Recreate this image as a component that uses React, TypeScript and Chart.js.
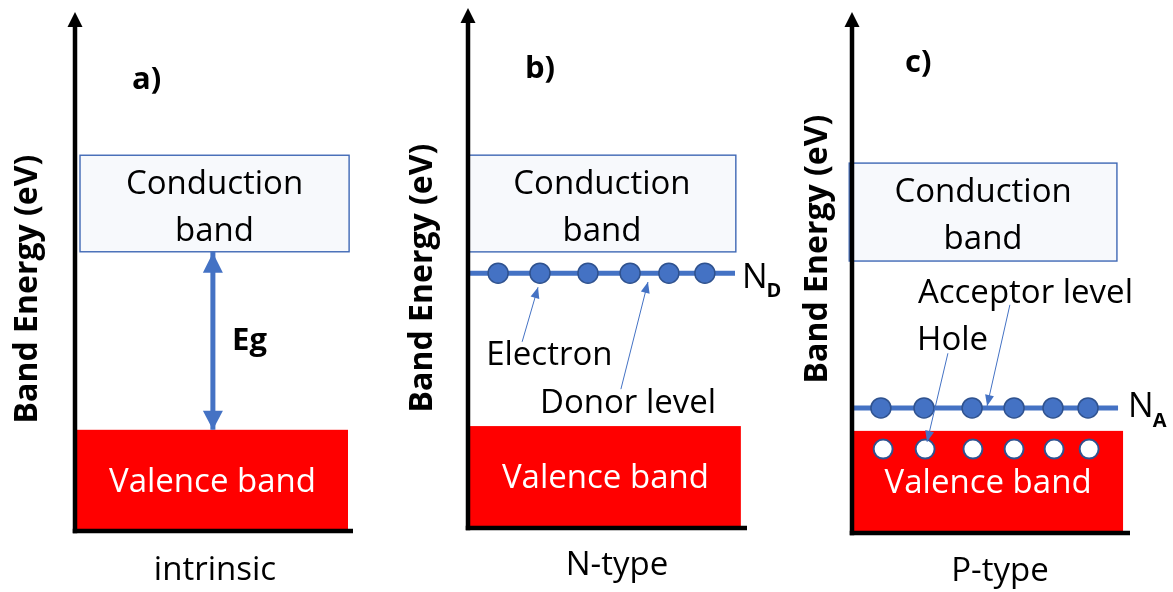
import React, { useEffect, useRef } from "react";
import { Chart, registerables } from "chart.js";

Chart.register(...registerables);

// ---------------- data ----------------
const panelTags = ["a)", "b)", "c)"];
const dopingTypes = ["intrinsic", "N-type", "P-type"];
const energyAxisTitle = "Band Energy (eV)";
const conductionLabel = ["Conduction", "band"];
const valenceLabel = "Valence band";
const gapLabel = "Eg";
const conductionBandBottom = [5.38, 5.31, 5.22];
const conductionBandTop = [7.24, 7.17, 7.1];
const valenceBandTop = [1.95, 1.96, 1.96];
const donorLevel = 4.9;
const donorSites = [1.08, 2.58, 4.3, 5.81, 7.2, 8.49];
const acceptorLevel = 2.4;
const acceptorSites = [1.04, 2.59, 4.32, 5.83, 7.23, 8.49];
const holeLevel = 1.61;
const holeSites = [1.12, 2.63, 4.35, 5.83, 7.27, 8.53];
const levelNames = ["", "N", "N"];
const levelSubs = ["", "D", "A"];

// ---------------- layout / style ----------------
const BLUE = "#4472C4";
const BLUE_DARK = "#2F528F";
const FONT = "'Open Sans', 'Noto Sans', sans-serif";
const H = 592;

type Note = { text: string; x: number; y: number; bold?: boolean; size?: number };
type Pointer = { from: [number, number]; to: [number, number] };
type Layout = {
  canvasLeft: number;
  canvasWidth: number;
  pad: { left: number; right: number; top: number; bottom: number };
  cbX: [number, number];
  vbX: [number, number];
  levelX: [number, number];
  tagAt: [number, number];
  yTitleAt: [number, number];
  xTitleAt: [number, number];
  levelLabelAt: [number, number];
  subOffset: number;
  notes: Note[];
  pointers: Pointer[];
};

const gapArrowX = 4.96;

const layouts: Layout[] = [
  {
    canvasLeft: 0, canvasWidth: 392,
    pad: { left: 75, right: 39, top: 12, bottom: 61 },
    cbX: [0.18, 9.86], vbX: [0.07, 9.82], levelX: [0, 9.57],
    tagAt: [2.05, 8.52], yTitleAt: [28, 289], xTitleAt: [215, 580],
    levelLabelAt: [0, 0], subOffset: 0,
    notes: [{ text: gapLabel, x: 5.65, y: 3.49, bold: true, size: 31 }],
    pointers: [],
  },
  {
    canvasLeft: 392, canvasWidth: 392,
    pad: { left: 76, right: 37, top: 8, bottom: 64 },
    cbX: [0, 9.6], vbX: [0.07, 9.78], levelX: [0, 9.57],
    tagAt: [2.04, 8.65], yTitleAt: [31, 278], xTitleAt: [225, 575],
    levelLabelAt: [9.82, 4.62], subOffset: 9,
    notes: [
      { text: "Electron", x: 0.65, y: 3.13 },
      { text: "Donor level", x: 2.58, y: 2.21 },
    ],
    pointers: [
      { from: [1.94, 3.58], to: [2.51, 4.63] },
      { from: [5.48, 2.67], to: [6.45, 4.73] },
    ],
  },
  {
    canvasLeft: 784, canvasWidth: 389,
    pad: { left: 68, right: 43, top: 12, bottom: 59 },
    cbX: [-0.1, 9.53], vbX: [0.04, 9.75], levelX: [0, 9.57],
    tagAt: [1.91, 8.85], yTitleAt: [34, 249], xTitleAt: [216, 581],
    levelLabelAt: [9.93, 2.23], subOffset: 10,
    notes: [
      { text: "Acceptor level", x: 2.37, y: 4.41 },
      { text: "Hole", x: 2.34, y: 3.51 },
    ],
    pointers: [
      { from: [3.45, 3.45], to: [2.7, 1.75] },
      { from: [5.68, 4.38], to: [4.86, 2.44] },
    ],
  },
];

function buildDatasets(i: number): any[] {
  const L = layouts[i];
  if (i === 0) {
    return [
      {
        type: "line",
        data: [
          { x: gapArrowX, y: conductionBandBottom[0] },
          { x: gapArrowX, y: valenceBandTop[0] },
        ],
        borderColor: BLUE,
        borderWidth: 5,
        pointRadius: 0,
        clip: false,
      },
    ];
  }
  const level = i === 1 ? donorLevel : acceptorLevel;
  const sites = i === 1 ? donorSites : acceptorSites;
  const ds: any[] = [
    {
      type: "scatter",
      data: sites.map((x) => ({ x, y: level })),
      backgroundColor: BLUE,
      borderColor: BLUE_DARK,
      borderWidth: 1.5,
      pointRadius: 10,
      clip: false,
    },
  ];
  if (i === 2) {
    ds.push({
      type: "scatter",
      data: holeSites.map((x) => ({ x, y: holeLevel })),
      backgroundColor: "#FFFFFF",
      borderColor: BLUE_DARK,
      borderWidth: 2,
      pointRadius: 9.5,
      clip: false,
    });
  }
  ds.push({
    type: "line",
    data: [
      { x: L.levelX[0], y: level },
      { x: L.levelX[1], y: level },
    ],
    borderColor: BLUE,
    borderWidth: 5,
    pointRadius: 0,
    clip: false,
  });
  return ds;
}

function arrowHead(ctx: CanvasRenderingContext2D, fx: number, fy: number, tx: number, ty: number, len: number, half: number) {
  const a = Math.atan2(ty - fy, tx - fx);
  const bx = tx - len * Math.cos(a);
  const by = ty - len * Math.sin(a);
  ctx.beginPath();
  ctx.moveTo(tx, ty);
  ctx.lineTo(bx + half * Math.sin(a), by - half * Math.cos(a));
  ctx.lineTo(bx - half * Math.sin(a), by + half * Math.cos(a));
  ctx.closePath();
  ctx.fill();
}

function makeDiagramPlugin(i: number) {
  const L = layouts[i];
  return {
    id: "bandDiagram" + i,
    beforeDatasetsDraw(chart: any) {
      const { ctx } = chart;
      const xs = chart.scales.x;
      const ys = chart.scales.y;
      const px = (v: number) => xs.getPixelForValue(v);
      const py = (v: number) => ys.getPixelForValue(v);
      ctx.save();
      // conduction band
      const cx0 = px(L.cbX[0]);
      const cx1 = px(L.cbX[1]);
      const cyT = py(conductionBandTop[i]);
      const cyB = py(conductionBandBottom[i]);
      ctx.fillStyle = "#F7F9FC";
      ctx.fillRect(cx0, cyT, cx1 - cx0, cyB - cyT);
      ctx.strokeStyle = "#3F68B5";
      ctx.lineWidth = 1.4;
      ctx.strokeRect(cx0, cyT, cx1 - cx0, cyB - cyT);
      ctx.fillStyle = "#000";
      ctx.font = `33px ${FONT}`;
      ctx.textAlign = "center";
      ctx.textBaseline = "alphabetic";
      const cm = (cyT + cyB) / 2;
      const cxm = (cx0 + cx1) / 2;
      ctx.fillText(conductionLabel[0], cxm, cm - 10);
      ctx.fillText(conductionLabel[1], cxm, cm + 37);
      // valence band
      const vx0 = px(L.vbX[0]);
      const vx1 = px(L.vbX[1]);
      const vyT = py(valenceBandTop[i]);
      const vyB = py(0);
      ctx.fillStyle = "#FF0000";
      ctx.fillRect(vx0, vyT, vx1 - vx0, vyB - vyT);
      ctx.fillStyle = "#FFFFFF";
      ctx.fillText(valenceLabel, (vx0 + vx1) / 2, vyT + 62);
      ctx.restore();
    },
    afterDatasetsDraw(chart: any) {
      const { ctx, chartArea } = chart;
      const xs = chart.scales.x;
      const ys = chart.scales.y;
      const px = (v: number) => xs.getPixelForValue(v);
      const py = (v: number) => ys.getPixelForValue(v);
      const { left, right, top, bottom } = chartArea;
      ctx.save();
      // axes
      ctx.strokeStyle = "#000";
      ctx.fillStyle = "#000";
      ctx.lineWidth = 4.5;
      ctx.beginPath();
      ctx.moveTo(left, bottom + 2.25);
      ctx.lineTo(left, top + 12);
      ctx.stroke();
      arrowHead(ctx, left, top + 30, left, top, 15, 7.5);
      ctx.beginPath();
      ctx.moveTo(left - 2.25, bottom);
      ctx.lineTo(right, bottom);
      ctx.stroke();

      // gap arrow heads
      if (i === 0) {
        ctx.fillStyle = BLUE;
        const gx = px(gapArrowX);
        const t = py(conductionBandBottom[0]) + 1;
        const b = py(valenceBandTop[0]);
        arrowHead(ctx, gx, b, gx, t, 20, 10);
        arrowHead(ctx, gx, t, gx, b, 19, 10);
      }

      // pointers
      ctx.strokeStyle = BLUE;
      ctx.fillStyle = BLUE;
      ctx.lineWidth = 1;
      for (const p of L.pointers) {
        const fx = px(p.from[0]);
        const fy = py(p.from[1]);
        const tx = px(p.to[0]);
        const ty = py(p.to[1]);
        ctx.beginPath();
        ctx.moveTo(fx, fy);
        ctx.lineTo(tx, ty);
        ctx.stroke();
        arrowHead(ctx, fx, fy, tx, ty, 11, 4.5);
      }

      // texts
      ctx.fillStyle = "#000";
      ctx.textBaseline = "alphabetic";
      ctx.textAlign = "left";
      ctx.font = `bold 31px ${FONT}`;
      ctx.fillText(panelTags[i], px(L.tagAt[0]), py(L.tagAt[1]));
      for (const n of L.notes) {
        ctx.font = `${n.bold ? "bold " : ""}${n.size || 33}px ${FONT}`;
        ctx.fillText(n.text, px(n.x), py(n.y));
      }
      if (levelNames[i]) {
        const lx = px(L.levelLabelAt[0]);
        const ly = py(L.levelLabelAt[1]);
        ctx.font = `34px ${FONT}`;
        ctx.fillText(levelNames[i], lx, ly);
        const w = ctx.measureText(levelNames[i]).width;
        ctx.font = `bold 20px ${FONT}`;
        ctx.fillText(levelSubs[i], lx + w - 1, ly + L.subOffset);
      }
      // axis titles
      ctx.textAlign = "center";
      ctx.font = `33px ${FONT}`;
      ctx.fillText(dopingTypes[i], L.xTitleAt[0], L.xTitleAt[1]);
      ctx.save();
      ctx.translate(L.yTitleAt[0], L.yTitleAt[1]);
      ctx.rotate(-Math.PI / 2);
      ctx.textBaseline = "middle";
      ctx.font = `bold 32px ${FONT}`;
      ctx.fillText(energyAxisTitle, 0, 0);
      ctx.restore();
      ctx.restore();
    },
  };
}

function Panel({ index }: { index: number }) {
  const ref = useRef<HTMLCanvasElement>(null);
  const L = layouts[index];
  useEffect(() => {
    const chart = new Chart(ref.current as HTMLCanvasElement, {
      type: "scatter",
      data: { datasets: buildDatasets(index) },
      options: {
        responsive: false,
        animation: false,
        events: [],
        layout: { padding: L.pad, autoPadding: false } as any,
        scales: {
          x: { type: "linear", min: 0, max: 10, display: false },
          y: { type: "linear", min: 0, max: 10, display: false },
        },
        plugins: {
          legend: { display: false },
          tooltip: { enabled: false },
          title: { display: false },
        },
      } as any,
      plugins: [makeDiagramPlugin(index)],
    });
    return () => chart.destroy();
  }, [index]);
  return (
    <canvas
      ref={ref}
      width={L.canvasWidth}
      height={H}
      style={{ position: "absolute", left: L.canvasLeft, top: 0, width: L.canvasWidth, height: H }}
    />
  );
}

export default function App() {
  return (
    <div
      style={{
        position: "fixed",
        left: 0,
        top: 0,
        width: 1173,
        height: H,
        background: "#FFFFFF",
        overflow: "hidden",
      }}
    >
      {layouts.map((_, i) => (
        <Panel key={i} index={i} />
      ))}
    </div>
  );
}
